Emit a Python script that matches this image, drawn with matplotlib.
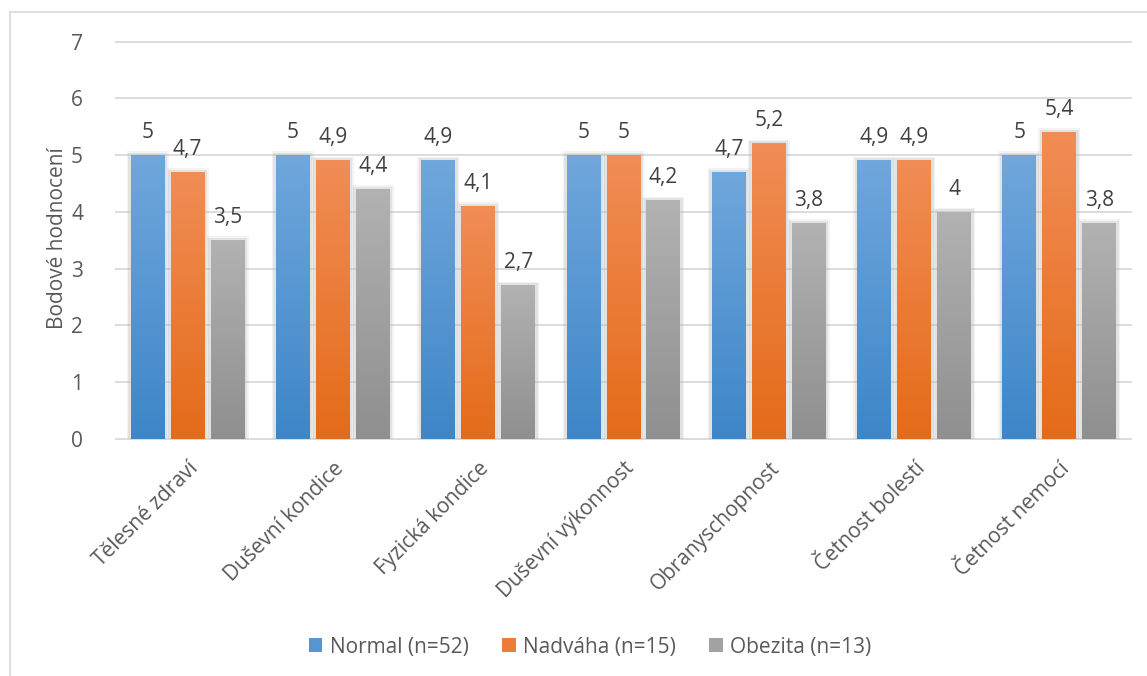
import numpy as np
import matplotlib.pyplot as plt
from matplotlib.colors import LinearSegmentedColormap
from matplotlib.patches import Rectangle

categories = ['Tělesné zdraví', 'Duševní kondice', 'Fyzická kondice', 'Duševní výkonnost',
              'Obranyschopnost', 'Četnost bolestí', 'Četnost nemocí']
series_names = ['Normal (n=52)', 'Nadváha (n=15)', 'Obezita (n=13)']
normal = [5.0, 5.0, 4.9, 5.0, 4.7, 4.9, 5.0]
nadvaha = [4.7, 4.9, 4.1, 5.0, 5.2, 4.9, 5.4]
obezita = [3.5, 4.4, 2.7, 4.2, 3.8, 4.0, 3.8]
y_ticks = [0, 1, 2, 3, 4, 5, 6, 7]

# (top colour, bottom colour) of each series' gradient
grad_colors = [('#70a7dc', '#3d86c8'), ('#f18d56', '#e46b19'), ('#b2b2b2', '#8f8f8f')]
legend_colors = ['#5596d2', '#ec7c38', '#a2a2a2']

plt.rcParams['font.family'] = ['Open Sans', 'DejaVu Sans']
txt = '#595959'
fs = 15

W, H = 1147, 676
fig = plt.figure(figsize=(W / 100, H / 100), dpi=100)
ax = fig.add_axes([115 / W, 1 - 440 / H, (1132 - 115) / W, (440 - 40.5) / H])

ymin, ymax = -0.02, 7.02
ax.set_xlim(-0.5, len(categories) - 0.5)
ax.set_ylim(ymin, ymax)

# pixel -> data unit factors for the shadow halo
px_x = 1 / 145.3
px_y = 1 / 56.8

width = 34 * px_x
step = 40 * px_x
x = np.arange(len(categories))
grad = np.linspace(1, 0, 256).reshape(-1, 1)

for i, (vals, (top, bot)) in enumerate(zip([normal, nadvaha, obezita], grad_colors)):
    cmap = LinearSegmentedColormap.from_list('g%d' % i, [bot, top])
    xs = x + (i - 1) * step
    for xc, v in zip(xs, vals):
        x0 = xc - width / 2
        # soft shadow round the bar
        for pad, a in [(4, 0.18), (2.5, 0.3)]:
            ax.add_patch(Rectangle((x0 - pad * px_x, 0), width + 2 * pad * px_x, v + pad * px_y,
                                   facecolor='#bdbdbd', edgecolor='none', alpha=a, zorder=2))
        ax.imshow(grad, cmap=cmap, extent=(x0, x0 + width, 0, v), aspect='auto',
                  interpolation='bicubic', zorder=3)
        ax.annotate(('%g' % v).replace('.', ','), (xc, v), xytext=(0, 12.5),
                    textcoords='offset points', ha='center', va='baseline',
                    fontsize=fs, color='#404040', zorder=4)

ax.set_xlim(-0.5, len(categories) - 0.5)
ax.set_ylim(ymin, ymax)
ax.set_aspect('auto')

ax.set_yticks(y_ticks)
ax.set_yticklabels([str(t) for t in y_ticks])
ax.set_xticks(x)
ax.set_xticklabels(categories, rotation=45, ha='right', rotation_mode='anchor')
ax.tick_params(axis='y', length=0, pad=23, labelsize=fs, labelcolor=txt)
ax.tick_params(axis='x', length=0, pad=13, labelsize=fs, labelcolor=txt)
ax.grid(axis='y', color='#d9d9d9', linewidth=1.3, zorder=0)
ax.set_axisbelow(True)
for s in ax.spines.values():
    s.set_visible(False)

fig.text(58 / W, 1 - 238 / H, 'Bodové hodnocení', rotation=90, ha='center', va='center',
         fontsize=fs, color=txt)

handles = [Rectangle((0, 0), 1, 1, facecolor=c, edgecolor='none') for c in legend_colors]
fig.legend(handles, series_names, loc='center', bbox_to_anchor=(590 / W, 1 - 647 / H),
           ncol=3, frameon=False, fontsize=fs, labelcolor=txt, handlelength=0.65,
           handleheight=0.65, handletextpad=0.35, columnspacing=1.6)

# chart area border
fig.add_artist(Rectangle((10 / W, -0.1), 1.2, 1 - 12 / H + 0.1, transform=fig.transFigure,
                         facecolor='none', edgecolor='#d9d9d9', linewidth=1.2))

fig.savefig('out.png', dpi=100)
